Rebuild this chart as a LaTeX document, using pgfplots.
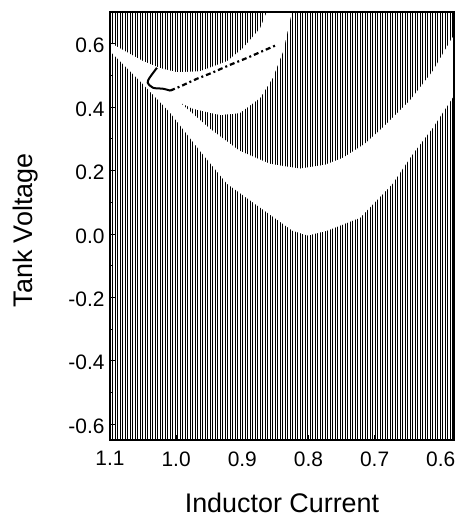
\documentclass[border=0pt]{standalone}
\usepackage{pgfplots}
\pgfplotsset{compat=1.18}
\usepackage{fontspec}
\setmainfont{Liberation Sans}
\usetikzlibrary{patterns.meta}
\begin{document}
\begin{tikzpicture}
\begin{axis}[
  at={(0,0)}, anchor=south west,
  scale only axis,
  width=344bp, height=428bp,
  x dir=reverse,
  xmin=0.58, xmax=1.1,
  ymin=-0.65, ymax=0.7,
  xtick={0.6,0.7,0.8,0.9,1.0,1.1},
  xticklabels={0.6,0.7,0.8,0.9,1.0,1.1},
  ytick={-0.6,-0.4,-0.2,0.0,0.2,0.4,0.6},
  yticklabels={-0.6,-0.4,-0.2,0.0,0.2,0.4,0.6},
  minor y tick num=1,
  xtick pos=bottom, ytick pos=left,
  tick align=inside,
  major tick length=5bp, minor tick length=3bp,
  axis line style={line width=1.2bp},
  tick style={line width=0.8bp, black},
  tick label style={font=\fontsize{21}{24}\selectfont},
  /pgf/number format/assume math mode=true,
  xticklabel style={yshift=-8bp},
  yticklabel style={xshift=-2bp, yshift=-2bp},
  xlabel={Inductor Current},
  ylabel={Tank Voltage},
  label style={font=\fontsize{27}{31}\selectfont},
  xlabel style={at={(axis description cs:0.5,-0.146)}, anchor=center},
  ylabel style={at={(axis description cs:-0.245,0.49)}, anchor=center},
  axis on top,
  clip=true,
]
% hatched background
\addplot[draw=none, pattern={Lines[angle=90, distance=2.5bp, line width=0.9bp]}, pattern color=black]
  coordinates {(0.58,-0.65) (1.1,-0.65) (1.1,0.7) (0.58,0.7)} -- cycle;
% white region (two U-shaped bands)
\addplot[draw=none, fill=white] coordinates {
  (1.1,0.603) (1.050,0.545) (1.024,0.523) (0.999,0.510) (0.964,0.513)
  (0.923,0.545) (0.899,0.586) (0.873,0.649) (0.863,0.70)
  (0.825,0.70)
  (0.828,0.672) (0.838,0.577) (0.854,0.492) (0.873,0.429) (0.904,0.381)
  (0.934,0.375) (0.975,0.395) (0.994,0.414)
  (0.949,0.332) (0.904,0.262) (0.858,0.221) (0.813,0.206) (0.775,0.218)
  (0.748,0.240) (0.715,0.284) (0.688,0.335) (0.647,0.420) (0.612,0.514)
  (0.583,0.618) (0.580,0.624)
  (0.580,0.436)
  (0.612,0.335) (0.642,0.253) (0.673,0.158) (0.722,0.051) (0.772,0.010)
  (0.801,-0.005) (0.824,0.010) (0.873,0.083) (0.923,0.158) (0.964,0.262)
  (1.009,0.382) (1.055,0.483) (1.1,0.577)
} -- cycle;
% trajectory: hook
\addplot[black, line width=2bp, smooth] coordinates {
  (1.029,0.524) (1.040,0.493) (1.043,0.477) (1.035,0.461) (1.020,0.458) (1.009,0.452)
};
% trajectory: dash-dot part
\addplot[black, line width=2.2bp, dash pattern=on 5bp off 3bp on 2bp off 3bp] coordinates {
  (1.009,0.452) (0.994,0.465) (0.969,0.489) (0.946,0.508) (0.919,0.533)
  (0.893,0.555) (0.869,0.577) (0.848,0.596)
};
\end{axis}
\pgfresetboundingbox
\path[use as bounding box] (-110bp,-77bp) rectangle (348bp,440bp);
\end{tikzpicture}
\end{document}
